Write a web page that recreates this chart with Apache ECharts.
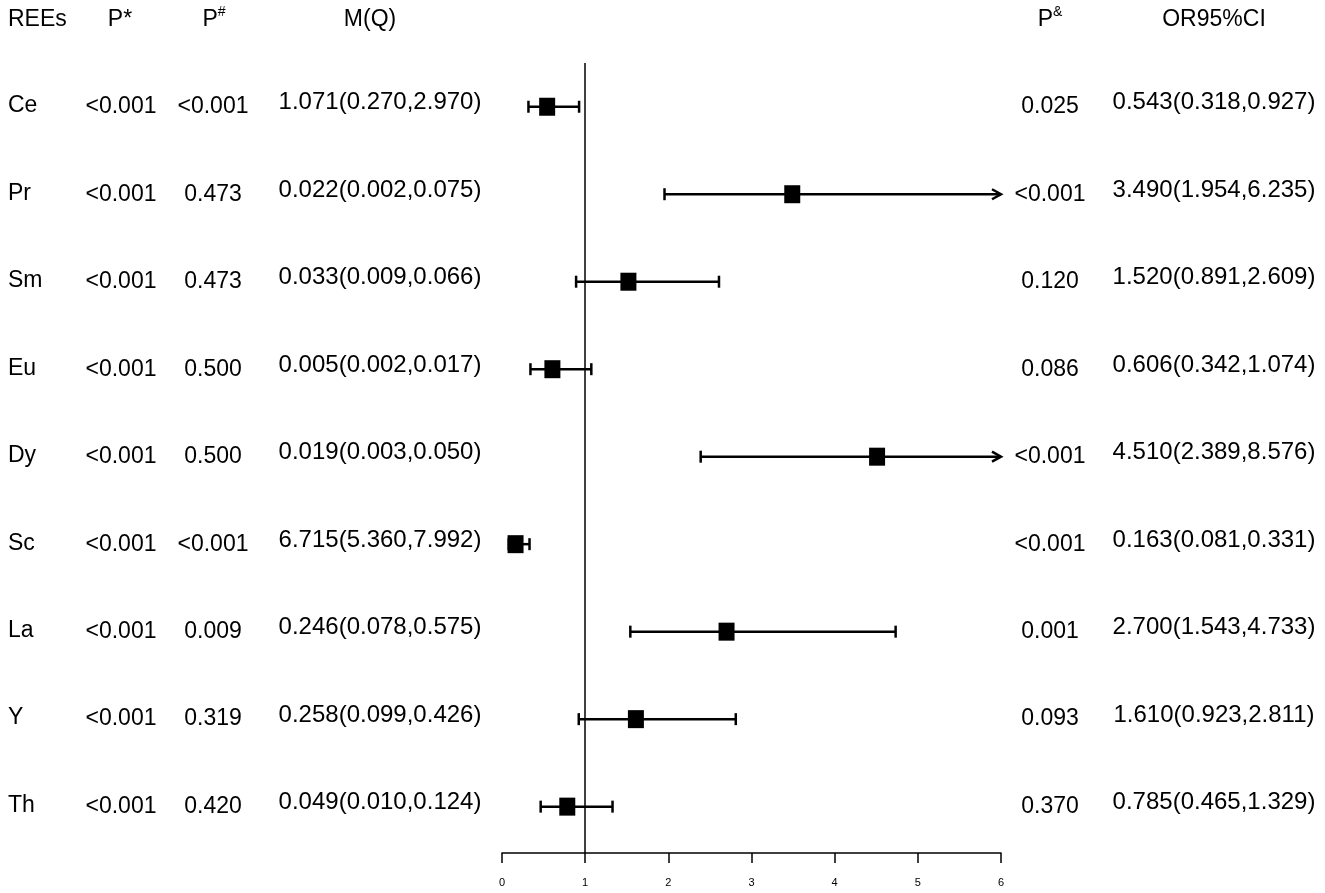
<!DOCTYPE html>
<html>
<head>
<meta charset="utf-8">
<script src="https://cdn.jsdelivr.net/npm/echarts@6/dist/echarts.min.js"></script>
<style>
  html, body { margin: 0; padding: 0; background: #fff; }
  #main { width: 1325px; height: 893px; }
</style>
</head>
<body>
<div id="main"></div>
<script>
// 表格数据
var rees = ['Ce', 'Pr', 'Sm', 'Eu', 'Dy', 'Sc', 'La', 'Y', 'Th'];
var pStar = ['<0.001', '<0.001', '<0.001', '<0.001', '<0.001', '<0.001', '<0.001', '<0.001', '<0.001'];
var pHash = ['<0.001', '0.473', '0.473', '0.500', '0.500', '<0.001', '0.009', '0.319', '0.420'];
var mq = ['1.071(0.270,2.970)', '0.022(0.002,0.075)', '0.033(0.009,0.066)', '0.005(0.002,0.017)',
  '0.019(0.003,0.050)', '6.715(5.360,7.992)', '0.246(0.078,0.575)', '0.258(0.099,0.426)', '0.049(0.010,0.124)'];
var pAmp = ['0.025', '<0.001', '0.120', '0.086', '<0.001', '<0.001', '0.001', '0.093', '0.370'];
var orVal = [0.543, 3.490, 1.520, 0.606, 4.510, 0.163, 2.700, 1.610, 0.785];
var ciLow = [0.318, 1.954, 0.891, 0.342, 2.389, 0.081, 1.543, 0.923, 0.465];
var ciHigh = [0.927, 6.235, 2.609, 1.074, 8.576, 0.331, 4.733, 2.811, 1.329];
var xTicks = [0, 1, 2, 3, 4, 5, 6];

var X_MAX = xTicks[xTicks.length - 1];
var FONT = 'Arial, "Liberation Sans", sans-serif';

var myChart = echarts.init(document.getElementById('main'));

function fmt(v) { return v.toFixed(3); }

var forestData = rees.map(function (r, i) {
  return [orVal[i], ciLow[i], ciHigh[i], i];
});
var tableData = [-1].concat(rees.map(function (r, i) { return i; }));

function txt(x, y, s, align, size) {
  return {
    type: 'text',
    style: {
      x: x, y: y, text: s, fill: '#000',
      font: (size || 23) + 'px ' + FONT,
      align: align || 'center', verticalAlign: 'middle'
    }
  };
}

function supTxt(x, y, main, sup) {
  return {
    type: 'text',
    style: {
      x: x, y: y, text: '{a|' + main + '}{s|' + sup + '}', fill: '#000',
      align: 'center', verticalAlign: 'middle',
      rich: {
        a: { fontSize: 23, fontFamily: FONT, lineHeight: 28, fill: '#000' },
        s: { fontSize: 14, fontFamily: FONT, lineHeight: 16, verticalAlign: 'top', fill: '#000' }
      }
    }
  };
}

// 左右两侧的表格文字
function renderTable(params, api) {
  var i = api.value(0);
  var y = api.coord([0, i])[1];
  if (i < 0) {
    return {
      type: 'group',
      children: [
        txt(8, y, 'REEs', 'left'),
        txt(120, y, 'P*'),
        supTxt(214, y, 'P', '#'),
        txt(370, y, 'M(Q)'),
        supTxt(1050, y, 'P', '&'),
        txt(1214, y, 'OR95%CI')
      ]
    };
  }
  return {
    type: 'group',
    children: [
      txt(8, y - 1, rees[i], 'left'),
      txt(121, y, pStar[i]),
      txt(213, y, pHash[i]),
      txt(380, y - 4, mq[i], 'center', 24),
      txt(1050, y, pAmp[i]),
      txt(1214, y - 4, fmt(orVal[i]) + '(' + fmt(ciLow[i]) + ',' + fmt(ciHigh[i]) + ')', 'center', 24)
    ]
  };
}

// 误差线 + 方块
function renderForest(params, api) {
  var i = api.value(3);
  var hiV = Math.min(api.value(2), X_MAX);
  var p = api.coord([api.value(0), i]);
  var lo = api.coord([api.value(1), i]);
  var hi = api.coord([hiV, i]);
  var ls = { stroke: '#000', lineWidth: 2.5 };
  var kids = [
    { type: 'line', shape: { x1: lo[0], y1: lo[1], x2: hi[0], y2: hi[1] }, style: ls },
    { type: 'line', shape: { x1: lo[0], y1: lo[1] - 6, x2: lo[0], y2: lo[1] + 6 }, style: ls }
  ];
  if (api.value(2) > X_MAX) {
    kids.push({
      type: 'polyline',
      shape: { points: [[hi[0] - 9, hi[1] - 5], [hi[0], hi[1]], [hi[0] - 9, hi[1] + 5]] },
      style: { stroke: '#000', lineWidth: 2.5, fill: null }
    });
  } else {
    kids.push({ type: 'line', shape: { x1: hi[0], y1: hi[1] - 6, x2: hi[0], y2: hi[1] + 6 }, style: ls });
  }
  kids.push({ type: 'rect', shape: { x: p[0] - 8, y: p[1] - 9, width: 16, height: 18 }, style: { fill: '#000' } });
  return { type: 'group', children: kids };
}

var option = {
  animation: false,
  backgroundColor: '#fff',
  grid: { left: 502, right: 324, top: 63, bottom: 40 },
  xAxis: {
    type: 'value',
    min: 0, max: X_MAX, interval: 1,
    position: 'bottom',
    axisLine: { show: true, onZero: false, lineStyle: { color: '#000', width: 1.5 } },
    axisTick: { show: true, length: 10, lineStyle: { color: '#000', width: 1.5 } },
    axisLabel: { color: '#000', fontSize: 11, margin: 24, fontFamily: FONT },
    splitLine: { show: false }
  },
  yAxis: {
    type: 'value', inverse: true, min: -0.5, max: 8.53, show: false
  },
  series: [
    {
      type: 'custom',
      renderItem: renderForest,
      data: forestData,
      clip: false,
      silent: true,
      markLine: {
        silent: true,
        symbol: 'none',
        label: { show: false },
        lineStyle: { color: '#000', width: 1.5, type: 'solid' },
        data: [{ xAxis: 1 }]
      }
    },
    {
      type: 'custom',
      renderItem: renderTable,
      data: tableData,
      clip: false,
      silent: true
    }
  ]
};

myChart.setOption(option);
</script>
</body>
</html>
